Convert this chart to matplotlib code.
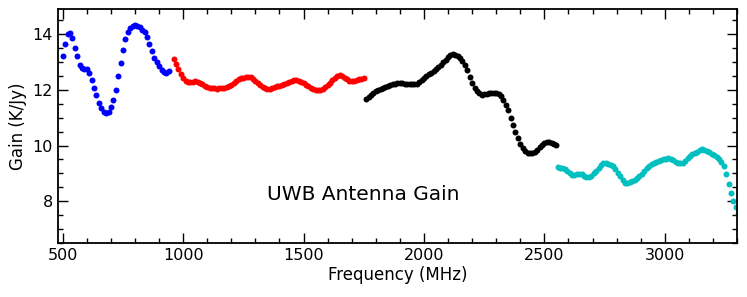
import matplotlib
matplotlib.use("Agg")
import matplotlib.pyplot as plt
from matplotlib.ticker import MultipleLocator
import numpy as np

# gain per sub-band, 10 MHz steps
blue_start = 500
blue_gain = [13.2, 13.65, 14.0, 14.05, 13.85, 13.5, 13.2, 12.9, 12.77, 12.75,
             12.74, 12.6, 12.35, 12.05, 11.8, 11.52, 11.33, 11.22, 11.17, 11.2,
             11.38, 11.65, 12.0, 12.5, 12.95, 13.42, 13.83, 14.08, 14.2, 14.28,
             14.31, 14.3, 14.25, 14.16, 14.07, 13.9, 13.63, 13.38, 13.15, 12.98,
             12.84, 12.72, 12.64, 12.61, 12.68]

red_start = 960
red_gain = [13.1, 12.93, 12.75, 12.57, 12.42, 12.32, 12.27, 12.27, 12.29, 12.3,
            12.27, 12.23, 12.19, 12.15, 12.11, 12.08, 12.06, 12.05, 12.04, 12.05,
            12.06, 12.07, 12.09, 12.12, 12.18, 12.25, 12.32, 12.37, 12.41, 12.44,
            12.46, 12.46, 12.45, 12.4, 12.33, 12.25, 12.17, 12.11, 12.06, 12.04,
            12.04, 12.06, 12.09, 12.12, 12.15, 12.18, 12.21, 12.25, 12.29, 12.33,
            12.36, 12.35, 12.31, 12.27, 12.23, 12.18, 12.13, 12.08, 12.04, 12.01,
            11.99, 11.99, 12.03, 12.09, 12.16, 12.26, 12.36, 12.44, 12.5, 12.53,
            12.5, 12.44, 12.37, 12.32, 12.31, 12.32, 12.35, 12.37, 12.4, 12.42]

black_start = 1760
black_gain = [11.68, 11.74, 11.8, 11.87, 11.94, 11.99, 12.03, 12.07, 12.11, 12.14,
              12.17, 12.2, 12.22, 12.24, 12.25, 12.24, 12.22, 12.2, 12.19, 12.19,
              12.2, 12.22, 12.27, 12.34, 12.41, 12.48, 12.55, 12.61, 12.67, 12.73,
              12.81, 12.9, 12.99, 13.07, 13.16, 13.25, 13.28, 13.25, 13.2, 13.14,
              13.04, 12.9, 12.7, 12.47, 12.25, 12.07, 11.95, 11.87, 11.83, 11.84,
              11.86, 11.88, 11.89, 11.9, 11.89, 11.84, 11.76, 11.63, 11.47, 11.26,
              11.0, 10.75, 10.5, 10.26, 10.05, 9.9, 9.8, 9.74, 9.72, 9.73,
              9.77, 9.84, 9.93, 10.02, 10.08, 10.12, 10.13, 10.1, 10.06, 10.03]

cyan_start = 2555
cyan_gain = [9.24, 9.21, 9.18, 9.16, 9.1, 9.0, 8.94, 8.93, 8.96, 8.99,
             8.98, 8.92, 8.87, 8.87, 8.92, 9.01, 9.1, 9.2, 9.3, 9.36,
             9.36, 9.33, 9.3, 9.27, 9.17, 9.03, 8.9, 8.77, 8.67, 8.65,
             8.7, 8.74, 8.77, 8.82, 8.9, 8.99, 9.1, 9.21, 9.28, 9.33,
             9.37, 9.4, 9.45, 9.48, 9.51, 9.53, 9.55, 9.53, 9.48, 9.41,
             9.37, 9.36, 9.37, 9.45, 9.55, 9.62, 9.68, 9.73, 9.78, 9.83,
             9.86, 9.85, 9.81, 9.77, 9.71, 9.65, 9.58, 9.5, 9.41, 9.25,
             8.98, 8.62, 8.3, 8.02, 7.78, 7.55]

bands = [(blue_start, blue_gain, 'b'),
         (red_start, red_gain, 'r'),
         (black_start, black_gain, 'k'),
         (cyan_start, cyan_gain, 'c')]

fig = plt.figure(figsize=(7.47, 2.97), dpi=100)
ax = fig.add_axes([0.0776, 0.1818, 0.909, 0.7879])

for start, gain, col in bands:
    freq = start + 10 * np.arange(len(gain))
    ax.plot(freq, gain, 'o', color=col, ms=4.3, mew=0)

ax.set_xlim(480, 3300)
ax.set_ylim(6.5, 14.9)
ax.xaxis.set_major_locator(MultipleLocator(500))
ax.xaxis.set_minor_locator(MultipleLocator(100))
ax.yaxis.set_major_locator(MultipleLocator(2))
ax.yaxis.set_minor_locator(MultipleLocator(0.5))
ax.tick_params(which='both', direction='in', top=True, right=True, labelsize=11.5)
ax.tick_params(which='major', length=7, width=1)
ax.tick_params(which='minor', length=3.5, width=1)
for sp in ax.spines.values():
    sp.set_linewidth(1.3)

ax.set_xlabel('Frequency (MHz)', fontsize=12, labelpad=2)
ax.set_ylabel('Gain (K/Jy)', fontsize=12, labelpad=4)
ax.text(1749, 8.23, 'UWB Antenna Gain', fontsize=14.5, ha='center', va='center')

fig.savefig('out.png', dpi=100)
